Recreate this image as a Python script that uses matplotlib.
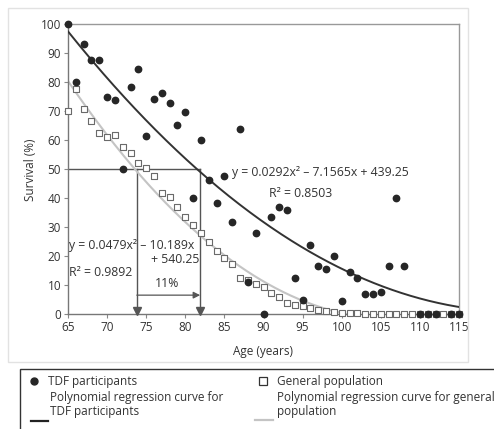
import matplotlib
matplotlib.use("Agg")
import matplotlib.pyplot as plt
import numpy as np
from matplotlib.lines import Line2D
from matplotlib.patches import Rectangle

plt.rcParams['font.family'] = ['Open Sans', 'DejaVu Sans']

# ---------------- data ----------------
tdf_age = [65, 66, 67, 68, 69, 70, 71, 72, 73, 74, 75, 76, 77, 78, 79, 80,
           81, 82, 83, 84, 85, 86, 87, 88, 89, 90, 91, 92, 93, 94, 95, 96,
           97, 98, 99, 100, 101, 102, 103, 104, 105, 106, 107, 108,
           110, 111, 112, 114, 115]
tdf_surv = [100, 80, 93, 87.6, 87.6, 75, 73.8, 50, 78.4, 84.5, 61.4, 74.1,
            76.3, 72.6, 65.2, 69.5, 40, 60, 46.2, 38.4, 47.7, 31.8, 63.7,
            10.9, 27.8, 0, 33.3, 36.8, 35.9, 12.3, 5, 23.8, 16.7, 15.4, 20,
            4.5, 14.4, 12.5, 6.8, 6.8, 7.6, 16.7, 40, 16.7,
            0, 0, 0, 0, 0]

gen_age = list(range(65, 116))
gen_surv = [70, 77.5, 70.7, 66.6, 62.3, 60.9, 61.7, 57.7, 55.4, 52.2, 50.5,
            47.7, 41.8, 40.5, 36.8, 33.3, 30.7, 27.8, 24.9, 21.8, 19.4, 17.1,
            12.3, 11.7, 10.3, 9.2, 7.3, 6.0, 3.9, 3.1, 2.8, 2.1, 1.4, 0.9,
            0.6, 0.4, 0.3, 0.2, 0.1, 0, 0, 0, 0, 0, 0, 0, 0, 0, 0, 0, 0]

# regression coefficients printed in the chart (a, b, c) for y = a x^2 + b x + c
tdf_coef = [0.0292, -7.1565, 439.25]
gen_coef = [0.0479, -10.189, 540.25]
tdf_range = [65, 115]
gen_range = [65, 100.5]

median_level = 50
median_gen_age = 73.8
median_tdf_age = 81.9
gap_label = "11%"

x_ticks = list(range(65, 116, 5))
y_ticks = list(range(0, 101, 10))

# ---------------- figure ----------------
W, H = 494, 429
fig = plt.figure(figsize=(W / 100, H / 100), dpi=100)
fig.patch.set_facecolor('white')


def fx(px):
    return px / W


def fy(py):
    return 1 - py / H


# outer light frame of the chart panel
fig.add_artist(Rectangle((fx(8), fy(362)), fx(468) - fx(8), fy(8) - fy(362),
                         transform=fig.transFigure, fill=False,
                         edgecolor='#e2e2e2', linewidth=1.0))

ax = fig.add_axes([fx(68), fy(314), fx(459) - fx(68), fy(24) - fy(314)])
ax.set_facecolor('white')

txt = '#333333'
dark = '#262626'
grey_line = '#c4c4c4'
ref = '#555555'
fs_eq = 8.8
fs = 8.5

# regression curves
xt = np.linspace(*tdf_range, 300)
ax.plot(xt, np.polyval(tdf_coef, xt), color='#333333', lw=1.4, zorder=3)
xg = np.linspace(*gen_range, 300)
ax.plot(xg, np.polyval(gen_coef, xg), color=grey_line, lw=1.5, zorder=2)

# median reference lines
ax.plot([65, median_tdf_age], [median_level, median_level], color=ref, lw=1.0, zorder=1)
for xv in (median_gen_age, median_tdf_age):
    ax.plot([xv, xv], [median_level, 0], color=ref, lw=1.0, zorder=1)
    ax.plot([xv], [1.2], marker='v', color=ref, ms=6, zorder=4, clip_on=False)

# gap arrow
ax.annotate('', xy=(median_tdf_age, 6.5), xytext=(median_gen_age, 6.5),
            arrowprops=dict(arrowstyle='-|>', color=ref, lw=0.9,
                            mutation_scale=10, shrinkA=0, shrinkB=0))
ax.text((median_gen_age + median_tdf_age) / 2 - 0.2, 8.3, gap_label,
        ha='center', va='bottom', fontsize=fs_eq, color=txt)

# data points
ax.scatter(gen_age, gen_surv, marker='s', s=24, facecolor='white',
           edgecolor='#6a6a6a', linewidths=0.8, zorder=5, clip_on=False)
ax.scatter(tdf_age, tdf_surv, marker='o', s=21, color=dark, zorder=6,
           clip_on=False)

# equations
ax.text(86.0, 48.7, 'y = 0.0292x\u00b2 \u2013 7.1565x + 439.25', fontsize=fs_eq,
        color=txt, va='center', ha='left')
ax.text(94.7, 41.6, 'R\u00b2 = 0.8503', fontsize=fs_eq, color=txt,
        va='center', ha='center')
ax.text(65.1, 23.6, 'y = 0.0479x\u00b2 \u2013 10.189x', fontsize=fs_eq,
        color=txt, va='center', ha='left', zorder=7)
ax.text(81.8, 18.9, '+ 540.25', fontsize=fs_eq, color=txt, va='center',
        ha='right')
ax.text(65.1, 14.2, 'R\u00b2 = 0.9892', fontsize=fs_eq, color=txt,
        va='center', ha='left')

# axes styling
ax.set_xlim(65, 115)
ax.set_ylim(0, 100)
ax.set_xticks(x_ticks)
ax.set_yticks(y_ticks)
ax.tick_params(axis='both', direction='out', length=3, width=0.8,
               colors='#888888', labelcolor=txt, labelsize=fs, pad=2)
for s in ax.spines.values():
    s.set_color('#999999')
    s.set_linewidth(1.0)
ax.spines['left'].set_color('#777777')
ax.spines['bottom'].set_color('#777777')

fig.text(fx(30), fy(170), 'Survival (%)', rotation=90, ha='center',
         va='center', fontsize=fs, color=txt)
fig.text(fx(263), fy(352), 'Age (years)', ha='center', va='center',
         fontsize=fs, color=txt)

# ---------------- legend (manual) ----------------
fig.add_artist(Rectangle((fx(20), fy(440)), fx(520) - fx(20), fy(369) - fy(440),
                         transform=fig.transFigure, fill=False,
                         edgecolor='#333333', linewidth=1.0, clip_on=False))
fig.add_artist(Line2D([fx(34)], [fy(381)], marker='o', ms=5, color=dark,
                      transform=fig.transFigure))
fig.text(fx(48), fy(381), 'TDF participants', fontsize=fs, color=txt,
         va='center')
fig.add_artist(Line2D([fx(263)], [fy(381)], marker='s', ms=6,
                      markerfacecolor='white', markeredgecolor='#333333',
                      markeredgewidth=0.9, transform=fig.transFigure))
fig.text(fx(277), fy(381), 'General population', fontsize=fs, color=txt,
         va='center')

fig.add_artist(Line2D([fx(31), fx(48)], [fy(421), fy(421)], color='#222222',
                      lw=1.6, transform=fig.transFigure))
fig.text(fx(50), fy(398), 'Polynomial regression curve for', fontsize=fs,
         color=txt, va='center')
fig.text(fx(50), fy(412), 'TDF participants', fontsize=fs, color=txt,
         va='center')
fig.add_artist(Line2D([fx(255), fx(273)], [fy(420), fy(420)], color=grey_line,
                      lw=1.6, transform=fig.transFigure))
fig.text(fx(277), fy(398), 'Polynomial regression curve for general',
         fontsize=fs, color=txt, va='center')
fig.text(fx(277), fy(412), 'population', fontsize=fs, color=txt, va='center')

fig.savefig('out.png', dpi=100, facecolor='white')
